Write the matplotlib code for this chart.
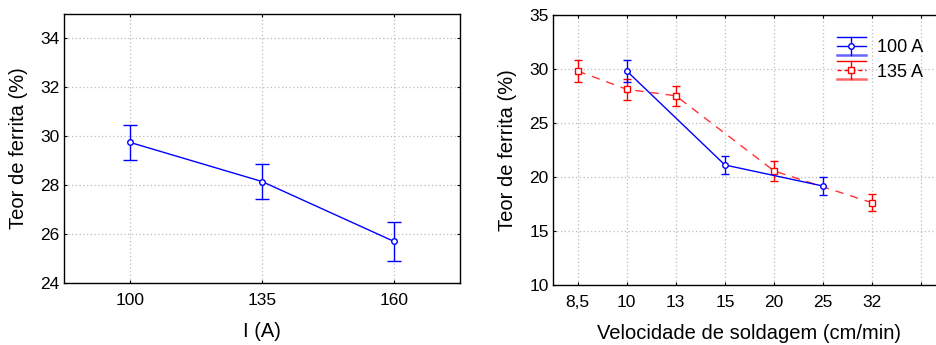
import matplotlib
matplotlib.use("Agg")
import matplotlib.pyplot as plt
from matplotlib.lines import Line2D
from matplotlib.legend_handler import HandlerBase

plt.rcParams['font.family'] = ['Liberation Sans', 'DejaVu Sans']

# ---- data: left panel ----
current_labels = ['100', '135', '160']
ferrite_by_current = [29.75, 28.15, 25.7]
ferrite_by_current_err = [0.7, 0.7, 0.8]

# ---- data: right panel ----
speed_labels = ['8,5', '10', '13', '15', '20', '25', '32', '']
s100_idx = [1, 3, 5]
s100_vals = [29.8, 21.1, 19.15]
s100_err = [1.05, 0.85, 0.8]
s135_idx = [0, 1, 2, 4, 6]
s135_vals = [29.8, 28.1, 27.5, 20.55, 17.6]
s135_err = [1.05, 0.95, 0.9, 0.9, 0.8]

BLUE = '#0000ff'
RED = '#ff0000'
GRID = dict(color='#bdbdbd', linestyle=(0, (1, 2)), linewidth=0.9)

fig = plt.figure(figsize=(9.37, 3.45), dpi=100)
W, H = 937, 345

def px_axes(x0, y0, x1, y1):
    return fig.add_axes([x0 / W, 1 - y1 / H, (x1 - x0) / W, (y1 - y0) / H])

def style(ax):
    ax.set_axisbelow(True)
    ax.grid(True, **GRID)
    for s in ax.spines.values():
        s.set_linewidth(1.0)
        s.set_color('black')
    ax.tick_params(direction='in', length=2, width=0.8, labelsize=12.5,
                   top=True, right=True, colors='black')
    ax.tick_params(axis='x', pad=7)
    ax.tick_params(axis='y', pad=3)

# Left panel
ax1 = px_axes(64, 14, 460, 283)
style(ax1)
x1 = list(range(len(current_labels)))
ax1.errorbar(x1, ferrite_by_current, yerr=ferrite_by_current_err, color=BLUE,
             lw=1.0, elinewidth=1.0, capsize=5, capthick=1.0,
             marker='o', ms=4, mfc='white', mec=BLUE, mew=1.0)
ax1.set_xlim(-0.5, 2.5)
ax1.set_ylim(24, 35)
ax1.set_xticks(x1)
ax1.set_xticklabels(current_labels)
ax1.set_yticks([24, 26, 28, 30, 32, 34])
ax1.set_xlabel('I (A)', fontsize=14.5, labelpad=10)
ax1.set_ylabel('Teor de ferrita (%)', fontsize=14.5, labelpad=9)

# Right panel
ax2 = px_axes(553, 14.7, 946, 285)
style(ax2)
ax2.errorbar(s135_idx, s135_vals, yerr=s135_err, color=RED, ls='none',
             elinewidth=1.0, capsize=3, capthick=1.0,
             marker='s', ms=4, mfc='white', mec=RED, mew=1.0, zorder=3)
ax2.plot(s135_idx, s135_vals, color=RED, lw=1.0, ls=(0, (6, 5)), alpha=0.8, zorder=2)
ax2.errorbar(s100_idx, s100_vals, yerr=s100_err, color=BLUE,
             lw=1.0, elinewidth=1.0, capsize=3, capthick=1.0,
             marker='o', ms=4, mfc='white', mec=BLUE, mew=1.0, zorder=4)
ax2.set_xlim(-0.5, 7.5)
ax2.set_ylim(10, 35)
ax2.set_xticks(range(len(speed_labels)))
ax2.set_xticklabels(speed_labels)
ax2.set_yticks([10, 15, 20, 25, 30, 35])
ax2.set_xlabel('Velocidade de soldagem (cm/min)', fontsize=14.5, labelpad=10)
ax2.set_ylabel('Teor de ferrita (%)', fontsize=14.5, labelpad=9)


class LegendKey:
    def __init__(self, color, ls, marker, alpha_low):
        self.color = color
        self.ls = ls
        self.marker = marker
        self.alpha_low = alpha_low


class ErrHandler(HandlerBase):
    def create_artists(self, legend, orig_handle, xdescent, ydescent,
                       width, height, fontsize, trans):
        x0, x1 = -xdescent, -xdescent + width
        xm = (x0 + x1) / 2
        yc = -ydescent + height / 2
        half = 6.5
        c = orig_handle.color
        arts = [
            Line2D([x0, x1], [yc + half, yc + half], color=c, lw=1.0, transform=trans),
            Line2D([x0, x1], [yc - half, yc - half], color=c, lw=1.8,
                   alpha=orig_handle.alpha_low, transform=trans),
            Line2D([xm, xm], [yc - half, yc + half], color=c, lw=1.0, transform=trans),
            Line2D([x0, x1], [yc, yc], color=c, lw=1.0, ls=orig_handle.ls, transform=trans),
            Line2D([xm], [yc], marker=orig_handle.marker, ms=4, mfc='white', mec=c,
                   mew=1.0, ls='none', transform=trans),
        ]
        return arts


h100 = LegendKey(BLUE, '-', 'o', 0.6)
h135 = LegendKey(RED, (0, (3, 2)), 's', 0.6)
ax2.legend([h100, h135], ['100 A', '135 A'],
           handler_map={LegendKey: ErrHandler()},
           loc='upper left', bbox_to_anchor=(837 / W, 1 - 39 / H),
           bbox_transform=fig.transFigure, frameon=False, fontsize=13,
           borderpad=0, borderaxespad=0, handlelength=1.6, handleheight=0.8,
           handletextpad=0.6, labelspacing=0.4)

fig.savefig('out.png', dpi=100)
